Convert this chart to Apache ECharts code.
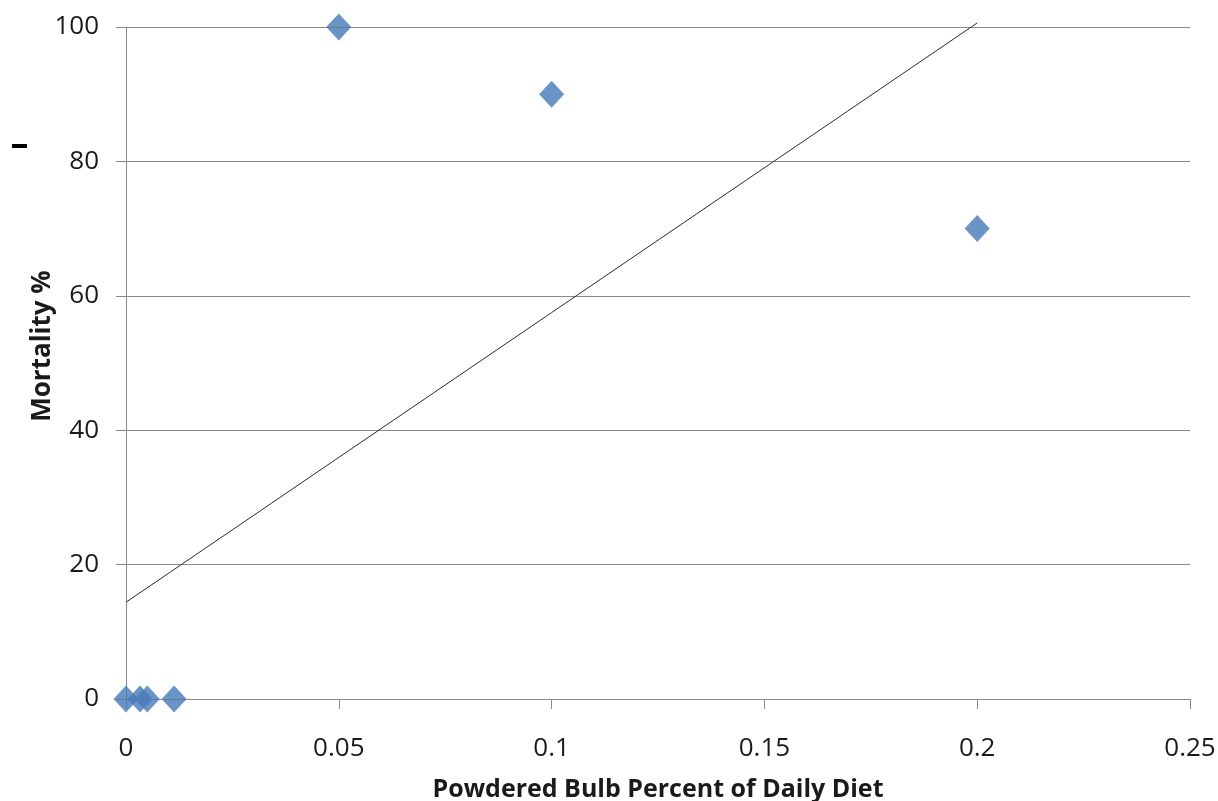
<!DOCTYPE html>
<html>
<head>
<meta charset="utf-8">
<script src="https://cdn.jsdelivr.net/npm/echarts@6/dist/echarts.min.js"></script>
<style>
html,body{margin:0;padding:0;background:#fff;}
#wrap{position:relative;width:1218px;height:801px;}
#c{width:1218px;height:801px;}
#dash{position:absolute;left:12px;top:144px;width:15px;height:4px;background:#000;}
</style>
</head>
<body>
<div id="wrap"><div id="c"></div><div id="dash"></div></div>
<script>
// Data
const doseX = [0, 0.0033, 0.005, 0.0113, 0.05, 0.1, 0.2];
const mortalityY = [0, 0, 0, 0, 100, 90, 70];
const trendX = [0, 0.2];
const trendY = [14.4, 100.6];
const xTicks = [0, 0.05, 0.1, 0.15, 0.2, 0.25];
const yTicks = [0, 20, 40, 60, 80, 100];

const points = doseX.map((x, i) => [x, mortalityY[i]]);
const trend = trendX.map((x, i) => [x, trendY[i]]);
const font = '"Open Sans", "Liberation Sans", sans-serif';

const chart = echarts.init(document.getElementById('c'));
chart.setOption({
  animation: false,
  backgroundColor: '#ffffff',
  grid: { left: 126, right: 28, top: 27, bottom: 102, containLabel: false, outerBoundsMode: 'none' },
  xAxis: {
    type: 'value', min: 0, max: 0.25, interval: 0.05,
    name: 'Powdered Bulb Percent of Daily Diet',
    nameLocation: 'middle', nameGap: 78, nameMoveOverlap: false,
    nameTextStyle: { fontFamily: font, fontSize: 25, fontWeight: 'bold', color: '#1a1a1a' },
    axisLine: { show: true, onZero: false, lineStyle: { color: '#8a8a8a', width: 1 } },
    axisTick: { show: true, inside: false, length: 10, lineStyle: { color: '#8a8a8a' } },
    axisLabel: { fontFamily: font, fontSize: 26, color: '#1a1a1a', margin: 37,
      formatter: v => String(+v.toFixed(2)) },
    splitLine: { show: false }
  },
  yAxis: {
    type: 'value', min: 0, max: 100, interval: 20,
    name: 'Mortality %',
    nameLocation: 'middle', nameGap: 70, nameMoveOverlap: false,
    nameTextStyle: { fontFamily: font, fontSize: 26, fontWeight: 'bold', color: '#1a1a1a',
      padding: [0, 0, 0, 34] },
    axisLine: { show: true, lineStyle: { color: '#8a8a8a', width: 1 } },
    axisTick: { show: true, length: 10, lineStyle: { color: '#8a8a8a' } },
    axisLabel: { fontFamily: font, fontSize: 26, color: '#1a1a1a', margin: 27 },
    splitLine: { show: true, lineStyle: { color: '#8a8a8a', width: 1 } }
  },
  series: [
    {
      type: 'line', data: trend, showSymbol: false, symbol: 'none', clip: false,
      lineStyle: { color: '#2a2a2a', width: 1 }, z: 3
    },
    {
      type: 'scatter', data: points, symbol: 'diamond', symbolSize: [25, 27],
      itemStyle: { color: '#4579b8' }, z: 4
    }
  ]
});
</script>
</body>
</html>
